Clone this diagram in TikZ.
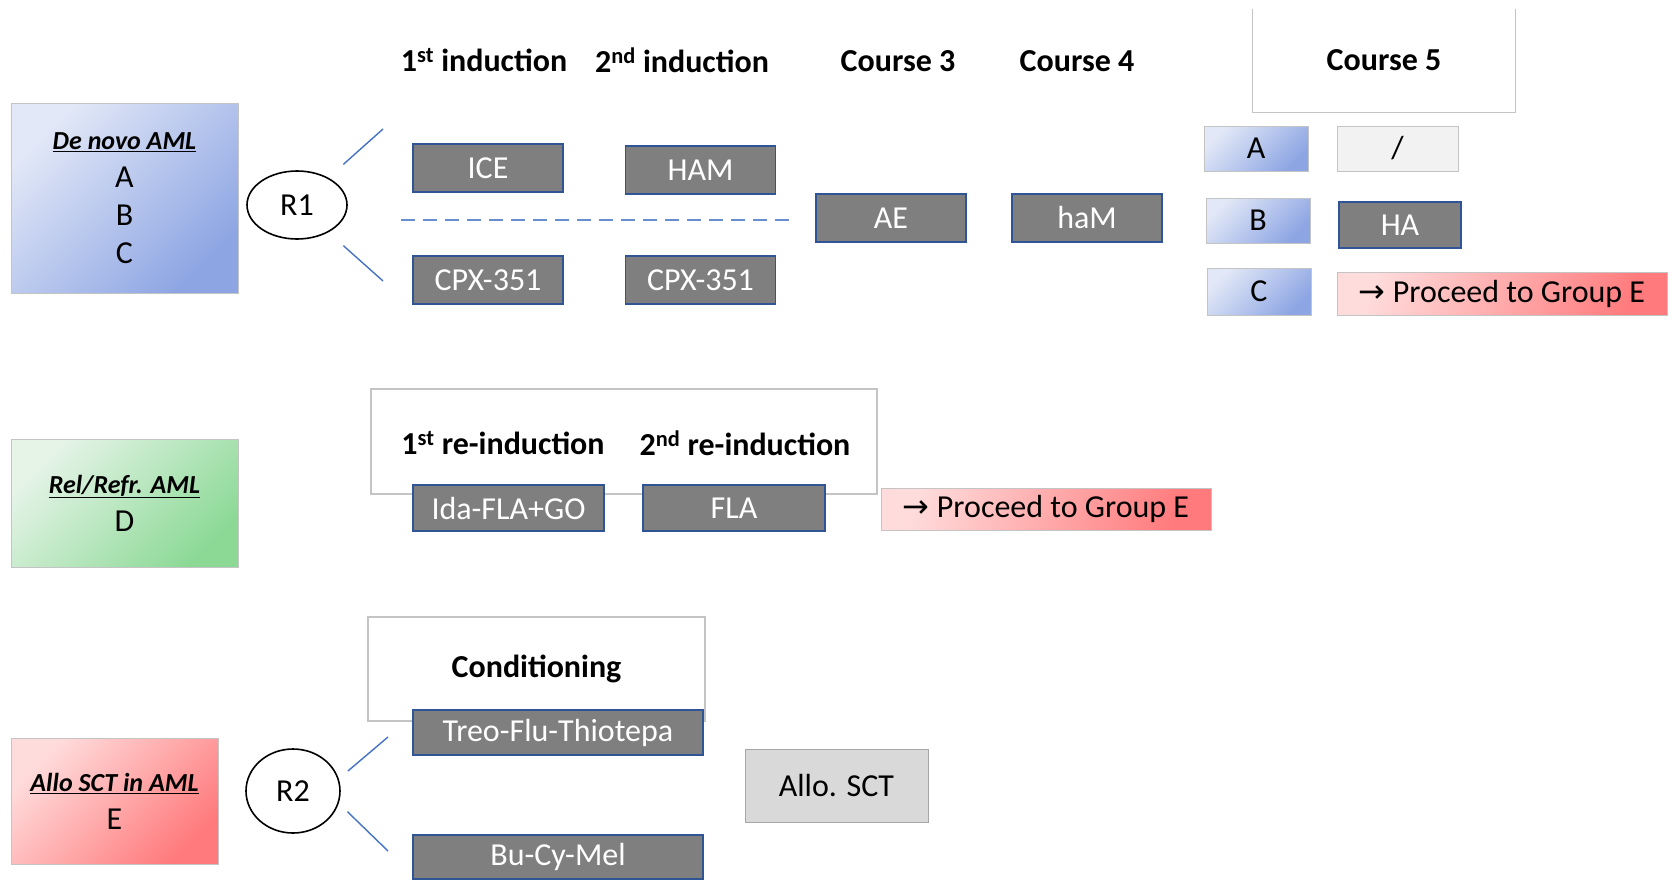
\documentclass[tikz,border=0pt]{standalone}
\usepackage{fontspec}
\setmainfont{Carlito}
\newfontfamily\arrowfont{DejaVu Sans}
\usetikzlibrary{shapes.geometric}
\definecolor{drugfill}{HTML}{7F7F7F}
\definecolor{drugline}{HTML}{2F5597}
\definecolor{armblue}{HTML}{4472C4}
\definecolor{framegray}{HTML}{C4C4C4}
\definecolor{bluelight}{HTML}{E2E8F7}
\definecolor{bluedark}{HTML}{8DA5E3}
\definecolor{greenlight}{HTML}{E6F4E8}
\definecolor{greendark}{HTML}{8CD996}
\definecolor{redlight}{HTML}{FFDCDC}
\definecolor{reddark}{HTML}{FF7A7C}
\newcommand{\proceedE}{{\arrowfont →} Proceed to Group E}
\newcommand{\grouptitle}[1]{{\fontsize{26}{38}\selectfont\textbf{\textit{\underline{#1}}}}}

\begin{document}
\begin{tikzpicture}[x=1pt, y=-1pt,
  every node/.style={font=\fontsize{32}{38}\selectfont, inner sep=0pt},
  hdr/.style={font=\fontsize{32}{38}\selectfont\bfseries},
  drug/.style={draw=drugline, line width=1.6pt, fill=drugfill, text=white,
               minimum width=150pt, minimum height=48pt},
  frame/.style={draw=framegray, line width=1.2pt, fill=white},
  group/.style={draw=framegray, line width=0.8pt, align=center,
                shading angle=45},
  bluebox/.style={top color=bluelight, bottom color=bluedark, group},
  greenbox/.style={top color=greenlight, bottom color=greendark, group},
  redbox/.style={top color=redlight, bottom color=reddark, group},
  proceed/.style={top color=redlight, bottom color=reddark, group,
                  shading angle=70, minimum width=330pt, minimum height=43pt},
  rand/.style={ellipse, draw=black, line width=1.6pt},
  arm/.style={draw=armblue, line width=1.4pt}
]
\useasboundingbox (0,0) rectangle (1673,879);

% patient groups
\node[bluebox, minimum width=227pt, minimum height=190pt] (denovo) at (124.5,198)
  {\grouptitle{De novo AML}\\A\\B\\C};
\node[greenbox, minimum width=227pt, minimum height=128pt] (relrefr) at (124.5,503)
  {\grouptitle{Rel/Refr. AML}\\D};
\node[redbox, minimum width=207pt, minimum height=126pt] (allo) at (114.5,801)
  {\grouptitle{Allo SCT in AML}\\E};

% randomisations
\node[rand, minimum width=100pt, minimum height=68pt] (r1) at (297,205) {R1};
\node[rand, minimum width=94pt, minimum height=84pt] (r2) at (293,791) {R2};
\coordinate (r1up) at (383,129);
\coordinate (r1dn) at (383,281);
\coordinate (r2up) at (388,737);
\coordinate (r2dn) at (388,851);
\draw[arm, shorten <=20pt] (r1.41) -- (r1up);
\draw[arm, shorten <=20pt] (r1.-41) -- (r1dn);
\draw[arm, shorten <=12pt] (r2.15) -- (r2up);
\draw[arm, shorten <=12pt] (r2.-15) -- (r2dn);

% de novo: induction and consolidation
\node[hdr] (ind1) at (484,60) {1\textsuperscript{st} induction};
\node[hdr] (ind2) at (682,60) {2\textsuperscript{nd} induction};
\node[hdr] (crs3) at (898,61) {Course 3};
\node[hdr] (crs4) at (1077,61) {Course 4};
\node[hdr, minimum width=262pt, minimum height=103pt] (crs5) at (1384,60.5) {Course 5};
\draw[draw=framegray, line width=1.2pt] (crs5.north west) -- (crs5.south west)
  -- (crs5.south east) -- (crs5.north east);

\node[drug] (ice) at (488,168) {ICE};
\node[drug] (ham) at (700.5,170) {HAM};
\node[drug] (cpxa) at (488,280) {CPX-351};
\node[drug] (cpxb) at (700.5,280) {CPX-351};
\node[drug] (ae) at (891,218) {AE};
\node[drug] (ham4) at (1087,218) {haM};
\coordinate (splitL) at (401,220);
\coordinate (splitR) at (793,220);
\draw[arm, line width=1.8pt, armblue!80, dash pattern=on 14pt off 8pt] (splitL) -- (splitR);

\node[bluebox, minimum width=104pt, minimum height=45pt] (grpa) at (1256,148.5) {A};
\node[bluebox, minimum width=104pt, minimum height=45pt] (grpb) at (1258,220.5) {B};
\node[bluebox, minimum width=104pt, minimum height=47pt] (grpc) at (1259,291.5) {C};
\node[draw=framegray, line width=1pt, fill=black!5, minimum width=121pt, minimum height=45pt] (none) at (1397.5,148.5) {/};
\node[drug, minimum width=122pt, minimum height=46pt] (ha) at (1400,225) {HA};
\node[proceed] (toEa) at (1502,293.5) {\proceedE};

% relapsed / refractory
\node[frame, minimum width=506pt, minimum height=105pt] (reframe) at (624,441.5) {};
\node[hdr] (reind1) at (503,443) {1\textsuperscript{st} re-induction};
\node[hdr] (reind2) at (745,443) {2\textsuperscript{nd} re-induction};
\node[drug, minimum width=191pt, minimum height=46pt] (idafla) at (508.5,508) {Ida-FLA+GO};
\node[drug, minimum width=182pt, minimum height=46pt] (fla) at (734,508) {FLA};
\node[proceed, minimum height=42pt] (toEb) at (1046,509) {\proceedE};

% allo SCT
\node[frame, hdr, minimum width=337pt, minimum height=104pt] (cond) at (536.5,669) {Conditioning};
\node[drug, minimum width=290pt, minimum height=45pt] (treo) at (558,732.5) {Treo-Flu-Thiotepa};
\node[drug, minimum width=290pt, minimum height=44pt] (bucy) at (558,857) {Bu-Cy-Mel};
\node[draw=black!35, line width=1pt, fill=black!15, minimum width=183pt, minimum height=73pt] (sct) at (836.5,785.5) {Allo. SCT};
\end{tikzpicture}
\end{document}
